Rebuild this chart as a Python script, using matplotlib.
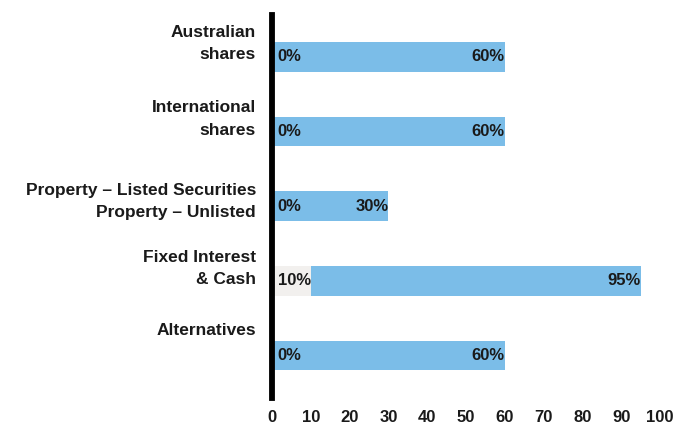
import matplotlib
matplotlib.use("Agg")
import matplotlib.pyplot as plt
from matplotlib.transforms import ScaledTranslation
from matplotlib import font_manager

categories = ["Australian\nshares", "International\nshares",
              "Property – Listed Securities\nProperty – Unlisted",
              "Fixed Interest\n& Cash", "Alternatives"]
min_vals = [0, 0, 0, 10, 0]
max_vals = [60, 60, 30, 95, 60]
xticks = [0, 10, 20, 30, 40, 50, 60, 70, 80, 90, 100]

names = {f.name for f in font_manager.fontManager.ttflist}
fam = "Liberation Sans Narrow" if "Liberation Sans Narrow" in names else "Liberation Sans"
plt.rcParams['font.family'] = [fam, 'DejaVu Sans']

fig = plt.figure(figsize=(6.77, 4.26), dpi=100)
ax = fig.add_axes([272/677, 1-398/426, 388/677, 383/426])

blue = "#7bbde8"
grey = "#f2f0ee"
txt = "#1a1a1a"
ypos = list(range(len(categories)))

for y, lo, hi in zip(ypos, min_vals, max_vals):
    if lo > 0:
        ax.barh(y, lo, left=0, height=0.4, color=grey, zorder=2)
    ax.barh(y, hi - lo, left=lo, height=0.4, color=blue, zorder=2)
    ax.text(1.5, y, f"{lo}%", ha='left', va='center', fontsize=12,
            fontweight='bold', color=txt, zorder=3)
    ax.text(hi, y, f"{hi}%", ha='right', va='center', fontsize=12,
            fontweight='bold', color=txt, zorder=3)

ax.set_xlim(0, 100)
ax.set_ylim(4.57, -0.56)
ax.set_xticks(xticks)
ax.set_xticklabels([str(t) for t in xticks], fontsize=12, fontweight='bold', color=txt)
ax.tick_params(axis='x', length=0, pad=9)
ax.set_yticks([])

offsets_px = [-13, -12.5, -4.5, -12, -25]
for y, lab, off in zip(ypos, categories, offsets_px):
    tr = ax.get_yaxis_transform() + ScaledTranslation(-16/100, -off/100, fig.dpi_scale_trans)
    ax.text(0, y, lab, transform=tr, ha='right', va='center', multialignment='right',
            fontsize=12.5, fontweight='bold', color=txt, linespacing=1.6)

for s in ['top', 'right', 'bottom']:
    ax.spines[s].set_visible(False)
ax.spines['left'].set_linewidth(4.2)
ax.spines['left'].set_color('black')

fig.savefig("out.png", dpi=100)
